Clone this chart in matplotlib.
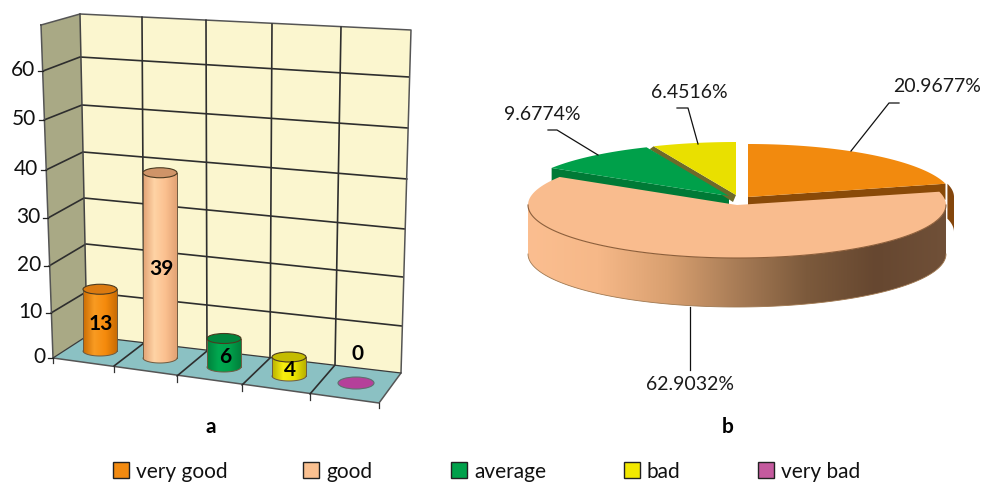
# Survey ratings: 3D-style cylinder chart (a) and exploded pie chart (b)
import numpy as np
import matplotlib
matplotlib.use("Agg")
import matplotlib.pyplot as plt
from matplotlib.colors import LinearSegmentedColormap
from matplotlib.patches import Ellipse, Polygon, Rectangle

plt.rcParams['font.family'] = ['Lato', 'DejaVu Sans']

categories = ['very good', 'good', 'average', 'bad', 'very bad']
counts = [13, 39, 6, 4, 0]
axis_ticks = [0, 10, 20, 30, 40, 50, 60]

swatch_colors = ['#F28A10', '#FAC090', '#00A14B', '#F2E800', '#C45A9E']

fig = plt.figure(figsize=(9.91, 4.82), dpi=100)
ax = fig.add_axes([0, 0, 1, 1])
ax.set_xlim(0, 991)
ax.set_ylim(482, 0)
ax.axis('off')


def gradient(colors, x0, x1, y0, y1, clip, zorder):
    cmap = LinearSegmentedColormap.from_list('g', colors)
    img = ax.imshow(np.linspace(0, 1, 256).reshape(1, -1), cmap=cmap, aspect='auto',
                    extent=(x0, x1, y1, y0), zorder=zorder, interpolation='bilinear')
    img.set_clip_path(clip)


# ---- chart a: walls and floor ----
back_left = np.array([[87, 336], [86, 292], [86, 244], [84, 198], [83, 152], [82, 105], [80, 57]])
back_right = np.array([[401, 373], [402, 326], [403, 277], [405, 229], [407, 179], [408, 128], [409, 77]])
front_left = np.array([[53, 358], [51, 313], [49, 266], [48, 218], [46, 170], [44, 120], [43, 71]])
top_back_l, top_back_r, top_front = (80, 14), (411, 30), (41, 25)
floor_front_r = (379, 403)

ax.add_patch(Polygon([top_back_l, top_back_r, back_right[0], back_left[0]],
                     fc='#FBF6CF', ec='none', zorder=1))
ax.add_patch(Polygon([top_front, top_back_l, back_left[0], front_left[0]],
                     fc='#A9A985', ec='none', zorder=1))
ax.add_patch(Polygon([back_left[0], back_right[0], floor_front_r, front_left[0]],
                     fc='#8BC1C3', ec='none', zorder=1))

grid_kw = dict(color='#2E2E2E', lw=1.2, zorder=2, solid_capstyle='round')
for i in range(1, len(axis_ticks)):
    ax.plot([front_left[i][0], back_left[i][0], back_right[i][0]],
            [front_left[i][1], back_left[i][1], back_right[i][1]], **grid_kw)
ax.plot([top_front[0], top_back_l[0], top_back_r[0], back_right[0][0], floor_front_r[0],
         front_left[0][0], top_front[0]],
        [top_front[1], top_back_l[1], top_back_r[1], back_right[0][1], floor_front_r[1],
         front_left[0][1], top_front[1]], color='#555555', lw=1.1, zorder=2)
ax.plot([top_back_l[0], back_left[0][0]], [top_back_l[1], back_left[0][1]], color='#444444', lw=1.1, zorder=2)
ax.plot([front_left[0][0], back_left[0][0], back_right[0][0]],
        [front_left[0][1], back_left[0][1], back_right[0][1]], color='#3A3A3A', lw=0.9, zorder=2)

# category dividers on the wall and the floor
wall_top = [(142, 17), (206, 20), (272, 24), (341, 27)]
wall_bottom = [(144, 343), (207, 351), (270, 358), (335, 365)]
floor_front = [(114, 366), (177, 376), (242, 385), (310, 394)]
for top, bottom, front in zip(wall_top, wall_bottom, floor_front):
    ax.plot([top[0], bottom[0], front[0]], [top[1], bottom[1], front[1]], **grid_kw)
    ax.plot([front[0], front[0]], [front[1], front[1] + 6], color='#333333', lw=0.9, zorder=2)
ax.plot([front_left[0][0]] * 2, [front_left[0][1], front_left[0][1] + 5], color='#333333', lw=0.9, zorder=2)
ax.plot([floor_front_r[0]] * 2, [floor_front_r[1], floor_front_r[1] + 5], color='#333333', lw=0.9, zorder=2)

for i, tick in enumerate(axis_ticks):
    x, y = front_left[i]
    ax.plot([x - 5, x], [y, y], color='#222222', lw=0.9, zorder=2)
    ax.text(x - 8, y - 1, str(tick), ha='right', va='center', fontsize=15, color='#111111')

# ---- chart a: cylinders ----
bar_x = [100, 160, 224, 289, 356]
bar_base = [351, 358, 367, 376, 383]
bar_w, bar_h = 34, 10
px_per_unit = 4.75
bar_side = [['#C96C04', '#F99B22', '#F58A0C', '#C96C04'],
            ['#E2A274', '#FFD3A5', '#FBC08F', '#E2A274'],
            ['#007F3B', '#00A850', '#00A14B', '#007F3B'],
            ['#B8B000', '#F7EE10', '#EDE400', '#B8B000'],
            ['#B5409A', '#B5409A', '#B5409A', '#B5409A']]
bar_cap = ['#DB7A10', '#CF9468', '#00853C', '#C4BC00', '#B5409A']

for x, base, value, side, cap in zip(bar_x, bar_base, counts, bar_side, bar_cap):
    top = base - value * px_per_unit
    left = x - bar_w / 2
    if value > 0:
        body = Rectangle((left, top), bar_w, base - top, fc='none', ec='none', zorder=3)
        ax.add_patch(body)
        foot = Ellipse((x, base), bar_w, bar_h, fc='none', ec='none', zorder=3)
        ax.add_patch(foot)
        gradient(side, left, left + bar_w, top, base, body, 3)
        gradient(side, left, left + bar_w, base - 1, base + bar_h / 2 + 1, foot, 3)
        ax.plot([left, left], [top, base], color='#6E5A40', lw=0.7, zorder=4)
        ax.plot([left + bar_w] * 2, [top, base], color='#6E5A40', lw=0.7, zorder=4)
        arc = np.radians(np.linspace(0, 180, 40))
        ax.plot(x + bar_w / 2 * np.cos(arc), base + bar_h / 2 * np.sin(arc), color='#6E5A40', lw=0.7, zorder=4)
        ax.add_patch(Ellipse((x, top), bar_w, bar_h, fc=cap, ec='#4A3A20', lw=0.8, zorder=4))
        ax.text(x + 1, (top + base) / 2 + 4, str(value), ha='center', va='center',
                fontsize=15, fontweight='bold', color='black', zorder=5)
    else:
        ax.add_patch(Ellipse((x, base), bar_w + 2, 12, fc=cap, ec='#5F6F70', lw=0.8, zorder=4))
        ax.text(x + 1, base - 29, str(value), ha='center', va='center',
                fontsize=15, fontweight='bold', color='black', zorder=5)

# ---- chart b: exploded pie ----
total = sum(counts)
shares = [c / total * 100 for c in counts[:4]]
edges = np.concatenate([[0], np.cumsum(shares) * 3.6])

pie_rx, pie_ry, pie_depth = 209, 53, 49
slice_centres = [(748, 197), (737, 205), (729, 196), (736, 195)]
slice_rx = [204, pie_rx, pie_rx, pie_rx]
slice_tops = ['#F28A0E', '#F9BC8E', '#00A04A', '#E9E000']
slice_faces = ['#8A4A08', '#C08A60', '#007A36', '#6E6A2A']


def arc_points(centre, rx, start, stop, dy=0, n=120):
    t = np.radians(np.linspace(start, stop, n))
    return np.column_stack([centre[0] + rx * np.sin(t), centre[1] + dy - pie_ry * np.cos(t)])


# radial faces of the pulled-out slices sit behind the main slice
orange_c, green_c, yellow_c = slice_centres[0], slice_centres[2], slice_centres[3]
tip = arc_points(orange_c, slice_rx[0], edges[1], edges[1], n=1)[0]
ax.add_patch(Polygon([orange_c, tip, tip + [0, 16], (orange_c[0], orange_c[1] + 16)],
                     fc=slice_faces[0], ec='none', zorder=2))
side = arc_points(orange_c, slice_rx[0] + 2, edges[1], 90, n=20)
side_low = arc_points(orange_c, slice_rx[0] + 2, 90, edges[1], dy=35, n=20)
ax.add_patch(Polygon(np.vstack([side, side_low]), fc='#84460C', ec='none', zorder=2))

tip = arc_points(green_c, pie_rx, edges[2], edges[2], n=1)[0]
ax.add_patch(Polygon([green_c, tip, tip + [0, 16], (green_c[0], green_c[1] + 16)],
                     fc=slice_faces[2], ec='none', zorder=2))
tip = arc_points(yellow_c, pie_rx, edges[3], edges[3], n=1)[0]
ax.add_patch(Polygon([yellow_c, tip, tip + [-4, 3], (yellow_c[0] - 3, yellow_c[1] + 7)],
                     fc=slice_faces[3], ec='none', zorder=3))

for idx in (0, 2, 3):
    pts = np.vstack([[slice_centres[idx]],
                     arc_points(slice_centres[idx], slice_rx[idx], edges[idx], edges[idx + 1])])
    ax.add_patch(Polygon(pts, fc=slice_tops[idx], ec='none', zorder=3))

# main slice: shaded outer wall first, then its top face
good_c = slice_centres[1]
rim = arc_points(good_c, pie_rx, 90, 270)
rim_low = arc_points(good_c, pie_rx, 270, 90, dy=pie_depth)
wall = Polygon(np.vstack([rim, rim_low]), fc='none', ec='none', zorder=4)
ax.add_patch(wall)
gradient(['#FBBE90', '#F6B888', '#D9A070', '#A87C56', '#7C5A3C', '#664730', '#705038'],
         good_c[0] - pie_rx, good_c[0] + pie_rx, good_c[1], good_c[1] + pie_ry + pie_depth, wall, 4)
ax.plot(rim_low[:, 0], rim_low[:, 1], color='#A07850', lw=0.6, zorder=5)
top_face = np.vstack([[good_c], arc_points(good_c, pie_rx, edges[1], edges[2])])
ax.add_patch(Polygon(top_face, fc=slice_tops[1], ec='none', zorder=5))
ax.plot(rim[:, 0], rim[:, 1], color='#8C5E3A', lw=0.8, zorder=6)

# percentage labels with their leader lines
label_xy = [(937, 87), (690, 384), (542, 115), (689, 92)]
leaders = [[(851, 151), (889, 103), (899, 103)],
           [(690, 307), (690, 370)],
           [(598, 155), (557, 130), (548, 130)],
           [(698, 144), (688, 108), (677, 108)]]
for share, xy, leader in zip(shares, label_xy, leaders):
    line = np.array(leader)
    ax.plot(line[:, 0], line[:, 1], color='#111111', lw=0.9, zorder=7)
    ax.text(xy[0], xy[1], f'{share:.4f}%', ha='center', va='center', fontsize=14, color='#1A1A1A')

ax.text(211, 427, 'a', ha='center', va='center', fontsize=15, fontweight='bold', color='black')
ax.text(728, 427, 'b', ha='center', va='center', fontsize=15, fontweight='bold', color='black')

# ---- shared legend ----
swatch_x = [113, 303, 451, 624, 758]
for x, name, color in zip(swatch_x, categories, swatch_colors):
    ax.add_patch(Rectangle((x, 462), 16, 16, fc=color, ec='#222222', lw=1.0, zorder=3))
    ax.text(x + 23, 478, name, ha='left', va='baseline', fontsize=15, color='#111111')

ax.set_xlim(0, 991)
ax.set_ylim(482, 0)
fig.savefig('out.png', dpi=100)
